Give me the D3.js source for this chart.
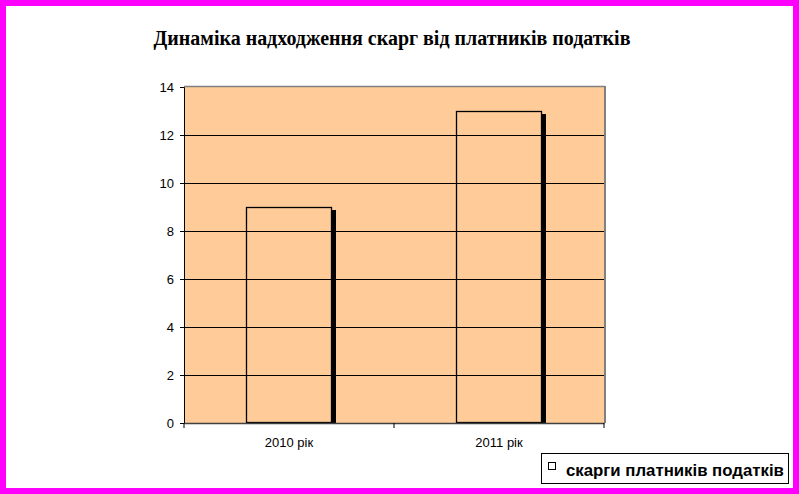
<!DOCTYPE html>
<html>
<head>
<meta charset="utf-8">
<script src="https://cdn.jsdelivr.net/npm/d3@7"></script>
<style>
html,body{margin:0;padding:0;background:#fff;}
svg{display:block;}
</style>
</head>
<body>
<script>
const categories = ["2010 рік", "2011 рік"];
const values = [9, 13];
const yTicks = [0, 2, 4, 6, 8, 10, 12, 14];
const seriesName = "скарги платників податків";
const title = "Динаміка надходження скарг від платників податків";

const W = 799, H = 494;
const svg = d3.select("body").append("svg").attr("width", W).attr("height", H);

// page background and magenta frame
svg.append("rect").attr("x", 0).attr("y", 0).attr("width", W).attr("height", H).attr("fill", "#ff00ff");
svg.append("rect").attr("x", 6).attr("y", 6).attr("width", W - 12).attr("height", H - 12).attr("fill", "#ffffff");

const plot = {left: 184, top: 87, right: 604, bottom: 423};

const xOuter = d3.scaleBand().domain(categories).range([plot.left, plot.right]);
const y = d3.scaleLinear().domain([0, 14]).range([plot.bottom, plot.top]);

// plot area
svg.append("rect").attr("x", plot.left).attr("y", plot.top)
  .attr("width", plot.right - plot.left).attr("height", plot.bottom - plot.top)
  .attr("fill", "#ffcc99");

// gridlines
svg.append("g").selectAll("line").data(yTicks.filter(d => d > 0 && d < 14)).join("line")
  .attr("x1", plot.left).attr("x2", plot.right)
  .attr("y1", d => Math.round(y(d)) + 0.5).attr("y2", d => Math.round(y(d)) + 0.5)
  .attr("stroke", "#000").attr("stroke-width", 1);

// plot border (grey top/right)
svg.append("line").attr("x1", plot.left).attr("x2", plot.right + 1)
  .attr("y1", plot.top - 0.5).attr("y2", plot.top - 0.5).attr("stroke", "#808080").attr("stroke-width", 1.5);
svg.append("line").attr("x1", plot.right + 1).attr("x2", plot.right + 1)
  .attr("y1", plot.top - 1).attr("y2", plot.bottom).attr("stroke", "#808080").attr("stroke-width", 2);

// bars: shadow + outline
const bw = 86;
const bx = d => xOuter(d) + xOuter.bandwidth() / 2 - bw / 2;
svg.append("g").selectAll("rect").data(values).join("rect")
  .attr("x", (d, i) => bx(categories[i]) + bw)
  .attr("y", d => y(d) + 3)
  .attr("width", 4)
  .attr("height", d => plot.bottom - y(d) - 3)
  .attr("fill", "#000");
svg.append("g").selectAll("rect").data(values).join("rect")
  .attr("x", (d, i) => Math.round(bx(categories[i])) + 0.5)
  .attr("y", d => Math.round(y(d)) + 0.5)
  .attr("width", bw - 1)
  .attr("height", d => plot.bottom - Math.round(y(d)) - 1)
  .attr("fill", "none")
  .attr("stroke", "#000").attr("stroke-width", 1.3);

// axes
const yAxis = d3.axisLeft(y).tickValues(yTicks).tickSize(4).tickPadding(6);
const gy = svg.append("g").attr("transform", `translate(${plot.left},0)`).call(yAxis);
gy.select(".domain").attr("stroke", "#000");
gy.selectAll("text").attr("font-family", "Liberation Sans, Arial, sans-serif").attr("font-size", 13).attr("fill", "#000");

const xAxis = d3.axisBottom(xOuter).tickSize(0).tickPadding(15);
const gx = svg.append("g").attr("transform", `translate(0,${plot.bottom})`).call(xAxis);
gx.select(".domain").attr("stroke", "#404040").attr("stroke-width", 1.5);
gx.selectAll("text").attr("font-family", "Liberation Sans, Arial, sans-serif").attr("font-size", 13).attr("fill", "#000");
// category boundary tick marks
svg.append("g").selectAll("line").data([plot.left, xOuter(categories[1]), plot.right]).join("line")
  .attr("x1", d => d).attr("x2", d => d)
  .attr("y1", plot.bottom).attr("y2", plot.bottom + 5)
  .attr("stroke", "#000");

// title
const t = svg.append("text").attr("x", 392).attr("y", 45).attr("text-anchor", "middle")
  .attr("font-family", "Liberation Serif, Times New Roman, serif").attr("font-weight", "bold")
  .attr("font-size", 19).text(title);
const tw = t.node().getComputedTextLength();
t.attr("font-size", 19 * 477 / tw);

// legend
svg.append("rect").attr("x", 541.5).attr("y", 453.5).attr("width", 247).attr("height", 30)
  .attr("fill", "#fff").attr("stroke", "#000");
svg.append("rect").attr("x", 548.5).attr("y", 462.5).attr("width", 7).attr("height", 7)
  .attr("fill", "#fff").attr("stroke", "#000");
const lt = svg.append("text").attr("x", 566).attr("y", 476)
  .attr("font-family", "Liberation Sans, Arial, sans-serif").attr("font-weight", "bold")
  .attr("font-size", 16).text(seriesName);
const lw = lt.node().getComputedTextLength();
lt.attr("font-size", 16 * 218 / lw);
</script>
</body>
</html>
